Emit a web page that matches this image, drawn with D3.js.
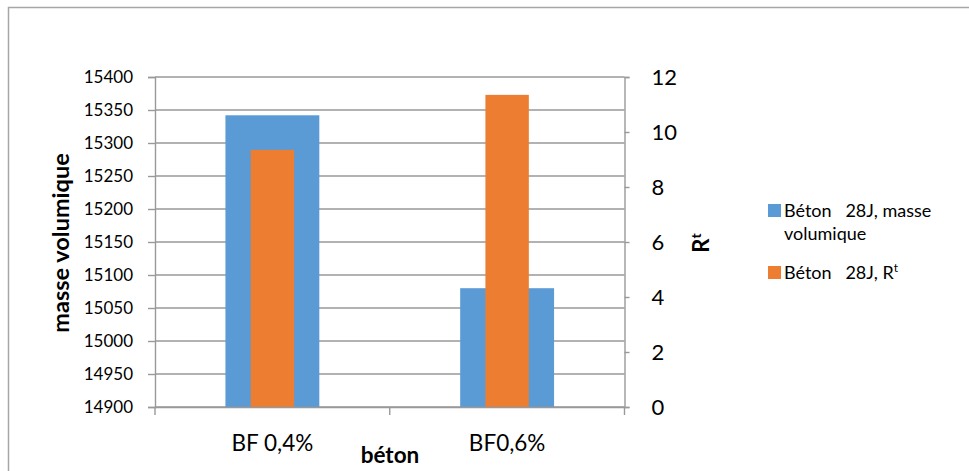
<!DOCTYPE html>
<html><head><meta charset="utf-8">
<script src="https://cdn.jsdelivr.net/npm/d3@7"></script>
<style>body{margin:0;background:#fff}svg{display:block}text{font-family:Lato,"Open Sans",sans-serif;fill:#000}</style>
</head><body>
<svg id="c" width="969" height="471"></svg>
<script>
const categories = ["BF 0,4%", "BF0,6%"];
const masseVolumique = [15342, 15080];
const rt = [9.35, 11.35];
const leftTicks = [14900,14950,15000,15050,15100,15150,15200,15250,15300,15350,15400];
const rightTicks = [0,2,4,6,8,10,12];
const seriesNames = ["Béton   28J, masse volumique", "Béton   28J, R"];
const colors = ["#5B9BD5", "#ED7D31"];

const svg = d3.select("#c");
const L = 155, R = 624.5, T = 77, B = 407;

svg.append("rect").attr("x",8.5).attr("y",7.5).attr("width",1000).attr("height",500)
  .attr("fill","none").attr("stroke","#a6a6a6").attr("stroke-width",1.5);

const x = d3.scaleBand().domain(categories).range([L,R]);
const yL = d3.scaleLinear().domain([14900,15400]).range([B,T]);
const yR = d3.scaleLinear().domain([0,12]).range([B,T]);

// gridlines
svg.append("g").selectAll("line").data(leftTicks).join("line")
  .attr("x1",L).attr("x2",R).attr("y1",d=>yL(d)).attr("y2",d=>yL(d))
  .attr("stroke","#999").attr("stroke-width",1.4);

// bars
const bw = x.bandwidth()*0.4, ow = x.bandwidth()*0.185;
svg.append("g").selectAll("rect").data(categories).join("rect")
  .attr("x",(d)=>x(d)+x.bandwidth()/2-bw/2).attr("width",bw)
  .attr("y",(d,i)=>yL(masseVolumique[i])).attr("height",(d,i)=>B-yL(masseVolumique[i]))
  .attr("fill",colors[0]);
svg.append("g").selectAll("rect").data(categories).join("rect")
  .attr("x",(d)=>x(d)+x.bandwidth()/2-ow/2).attr("width",ow)
  .attr("y",(d,i)=>yR(rt[i])).attr("height",(d,i)=>B-yR(rt[i]))
  .attr("fill",colors[1]);

// axes
const axL = svg.append("g").attr("transform",`translate(${L},0)`)
  .call(d3.axisLeft(yL).tickValues(leftTicks).tickSize(7).tickPadding(15).tickFormat(d3.format("d")));
const axR = svg.append("g").attr("transform",`translate(${R},0)`)
  .call(d3.axisRight(yR).tickValues(rightTicks).tickSize(5).tickPadding(22));
const axB = svg.append("g").attr("transform",`translate(0,${B})`)
  .call(d3.axisBottom(x).tickSize(0).tickFormat(""));
[axL,axR,axB].forEach(a=>{a.select(".domain").attr("stroke","#999").attr("stroke-width",1.4);
  a.selectAll(".tick line").attr("stroke","#999").attr("stroke-width",1.4);});
axL.selectAll("text").attr("font-size",17).attr("font-family","Lato");
axR.selectAll("text").attr("font-size",22).attr("font-family","Lato");
// category boundary ticks
const bounds = [L, ...categories.slice(1).map(c=>x(c)), R];
svg.append("g").selectAll("line").data(bounds).join("line")
  .attr("x1",d=>d).attr("x2",d=>d).attr("y1",B).attr("y2",B+8)
  .attr("stroke","#999").attr("stroke-width",1.4);
svg.append("g").selectAll("text").data(categories).join("text")
  .attr("x",d=>x(d)+x.bandwidth()/2).attr("y",451).attr("text-anchor","middle")
  .attr("font-size",22.5).text(d=>d);

// axis titles
svg.append("text").attr("x",390).attr("y",463).attr("text-anchor","middle")
  .attr("font-size",22.5).attr("font-weight","bold").text("béton");
svg.append("text").attr("transform","translate(69,243) rotate(-90)").attr("text-anchor","middle")
  .attr("font-size",23.5).attr("font-weight","bold").text("masse volumique");
const rtT = svg.append("text").attr("transform","translate(709,243) rotate(-90)").attr("text-anchor","middle")
  .attr("font-size",22).attr("font-weight","bold");
rtT.append("tspan").text("R");
rtT.append("tspan").attr("font-size",14).attr("dy",-8).text("t");

// legend
const lg = svg.append("g");
lg.append("rect").attr("x",768).attr("y",204).attr("width",13).attr("height",13).attr("fill",colors[0]);
lg.append("text").attr("x",784).attr("y",217).attr("font-size",18).attr("xml:space","preserve").text("Béton   28J, masse");
lg.append("text").attr("x",784).attr("y",240).attr("font-size",18).text("volumique");
lg.append("rect").attr("x",768).attr("y",266).attr("width",13).attr("height",13).attr("fill",colors[1]);
const l2 = lg.append("text").attr("x",784).attr("y",279).attr("font-size",18).attr("xml:space","preserve");
l2.append("tspan").text(seriesNames[1]);
l2.append("tspan").attr("font-size",12).attr("dy",-7).text("t");
</script>
</body></html>
